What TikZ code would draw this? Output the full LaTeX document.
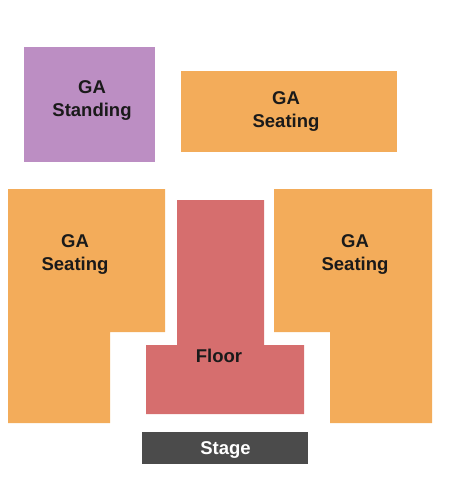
\documentclass[tikz,border=0pt]{standalone}
\usepackage{fontspec}
\setmainfont{Liberation Sans}
\definecolor{seatc}{HTML}{F3AC5A}
\definecolor{standc}{HTML}{BC8EC3}
\definecolor{floorc}{HTML}{D66E6E}
\definecolor{stagec}{HTML}{4B4B4B}
\definecolor{labc}{HTML}{1A1A1A}
\begin{document}
\begin{tikzpicture}[x=1pt,y=-1pt,
  lab/.style={font=\bfseries\fontsize{18.5}{23}\selectfont,text=labc,align=center,inner sep=0pt},
  wlab/.style={lab,text=white}]
\useasboundingbox (0,0) rectangle (450,500);
% sections
\fill[standc] (24,47) rectangle (155,162);
\fill[seatc] (181,71) rectangle (397,152);
\fill[seatc] (8,189) -- (165,189) -- (165,332) -- (110,332) -- (110,423) -- (8,423) -- cycle;
\fill[seatc] (274,189) -- (432,189) -- (432,423) -- (330,423) -- (330,332) -- (274,332) -- cycle;
\fill[floorc] (177,200) -- (264,200) -- (264,345) -- (304,345) -- (304,414) -- (146,414) -- (146,345) -- (177,345) -- cycle;
\fill[stagec] (142,432) rectangle (308,464);
% labels
\node[lab] (standing) at (92,101) {GA\\Standing};
\node[lab] (topseat) at (286,112) {GA\\Seating};
\node[lab] (leftseat) at (75,254) {GA\\Seating};
\node[lab] (rightseat) at (355,254) {GA\\Seating};
\node[lab] (floor) at (219,356) {Floor};
\node[wlab] (stage) at (225.5,450) {Stage};
\end{tikzpicture}
\end{document}
